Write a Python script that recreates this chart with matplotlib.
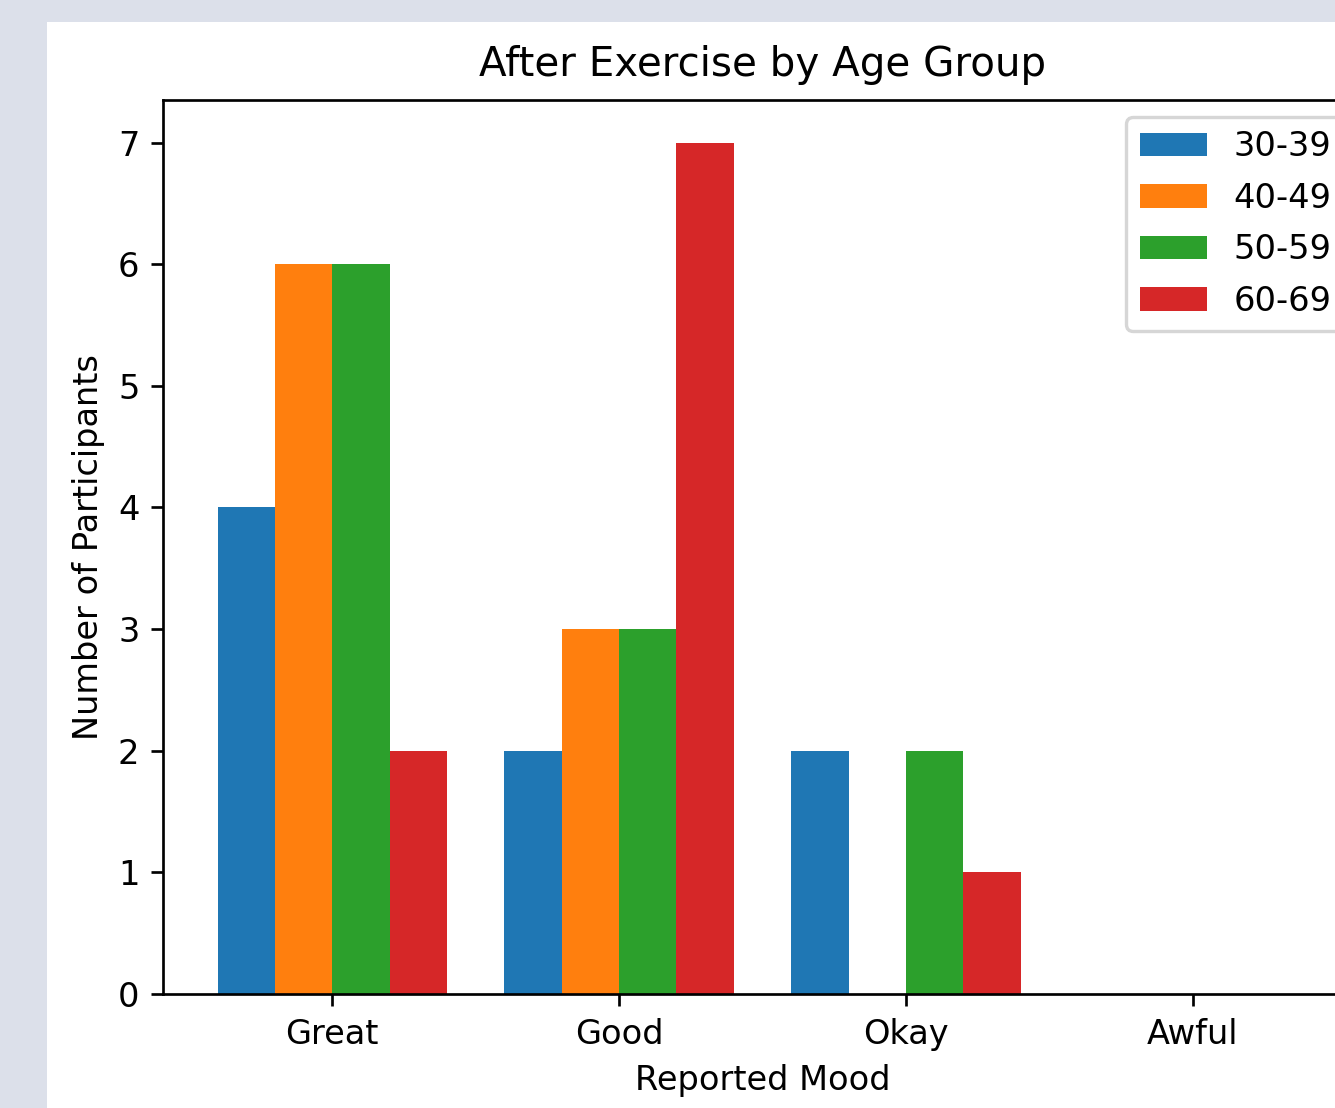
import matplotlib
matplotlib.use("Agg")
import matplotlib.pyplot as plt
import numpy as np
from matplotlib.patches import Rectangle

moods = ["Great", "Good", "Okay", "Awful"]
age_groups = ["30-39", "40-49", "50-59", "60-69"]
v_30_39 = [4, 2, 2, 0]
v_40_49 = [6, 3, 0, 0]
v_50_59 = [6, 3, 2, 0]
v_60_69 = [2, 7, 1, 0]
series = [v_30_39, v_40_49, v_50_59, v_60_69]
colors = ["#1f77b4", "#ff7f0e", "#2ca02c", "#d62728"]

W, H = 1335, 1108
dpi = 242
fig = plt.figure(figsize=(W / dpi, H / dpi), dpi=dpi, facecolor="#dce0ea")
# white figure panel (screenshot crop)
fig.patches.append(Rectangle((47 / W, 0), 1.2, 1 - 22 / H, transform=fig.transFigure,
                             facecolor="white", edgecolor="none", zorder=-10))

left, right = 163 / W, 1362 / W
bottom, top = 1 - 994 / H, 1 - 100 / H
ax = fig.add_axes([left, bottom, right - left, top - bottom])
ax.set_zorder(5)

x = np.arange(len(moods))
width = 0.2
for i, (vals, lab, c) in enumerate(zip(series, age_groups, colors)):
    ax.bar(x + (i - 1.5) * width, vals, width, label=lab, color=c)

ax.set_xticks(x)
ax.set_xticklabels(moods)
ax.set_xlabel("Reported Mood")
ax.set_ylabel("Number of Participants")
ax.set_title("After Exercise by Age Group", pad=7)
ax.legend(loc="upper right", labelspacing=0.55)

fig.savefig("out.png", dpi=dpi, facecolor=fig.get_facecolor())
